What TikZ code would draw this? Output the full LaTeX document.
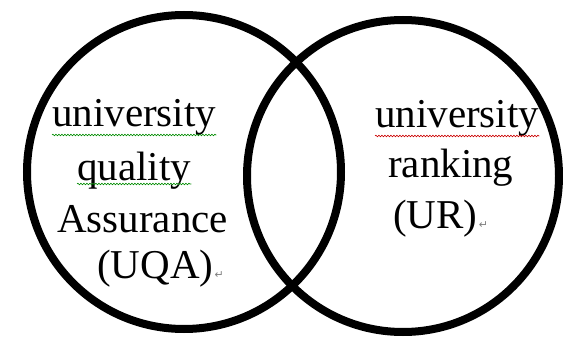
\documentclass[tikz,border=0pt]{standalone}
\usepackage{fontspec}
\setmainfont{Liberation Serif}
\newfontfamily\symfont{DejaVu Sans}
\usetikzlibrary{decorations.pathmorphing}
\tikzset{
  ring/.style={draw=black, line width=8pt},
  word/.style={anchor=base west, inner sep=0pt, font=\fontsize{41}{48}\selectfont},
  spellmark/.style={decorate, decoration={snake, amplitude=0.8pt, segment length=3pt}, line width=0.6pt},
  retmark/.style={anchor=base west, inner sep=0pt, xshift=1pt, text=gray, font=\symfont\fontsize{11}{12}\selectfont}
}
\begin{document}
\begin{tikzpicture}[x=1pt, y=-1pt]
\useasboundingbox (0,0) rectangle (563,337);
\fill[white] (0,0) rectangle (563,337);
% circles
\draw[ring] (184,172) circle[radius=157];
\draw[ring] (403,176) circle[radius=156];
% left text
\node[word] (l1) at (52,127) {university};
\node[word] (l2) at (77,180) {quality};
\node[word] (l3) at (57,232) {Assurance};
\node[word] (l4) at (97,278) {(UQA)};
\node[retmark] (r4) at (l4.base east) {↵};
% right text
\node[word] (q1) at (375,128) {university};
\node[word] (q2) at (388,178) {ranking};
\node[word] (q3) at (393,228) {(UR)};
\node[retmark] (r3) at (q3.base east) {↵};
% spell-check marks
\draw[spellmark, green!55!black] ([yshift=-8pt]l1.base west) -- ([yshift=-8pt]l1.base east);
\draw[spellmark, green!55!black] ([yshift=-4pt]l2.base west) -- ([yshift=-4pt]l2.base east);
\draw[spellmark, red!80!black] ([yshift=-8pt]q1.base west) -- ([yshift=-8pt]q1.base east);
\end{tikzpicture}
\end{document}
